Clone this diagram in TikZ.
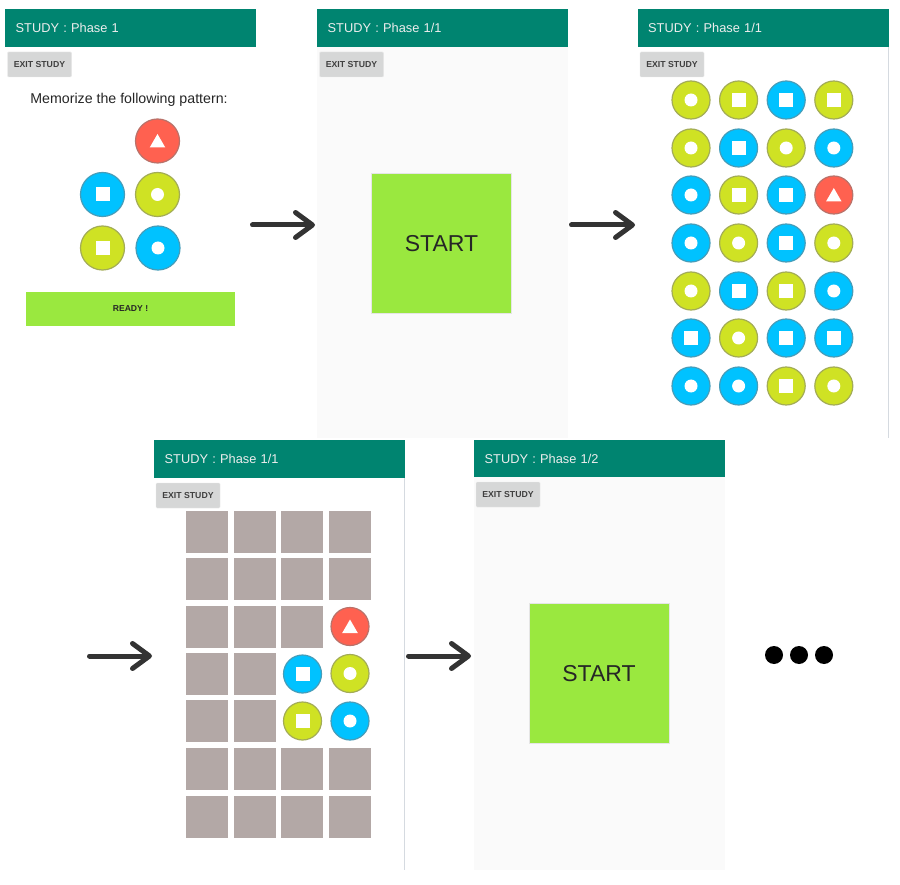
\documentclass[tikz,border=0pt]{standalone}
\usepackage{fontspec}
\setmainfont{Liberation Sans}
\usetikzlibrary{arrows.meta,shapes.geometric}
\definecolor{headteal}{HTML}{008470}
\definecolor{limedisc}{HTML}{CFE224}
\definecolor{skydisc}{HTML}{00C2FF}
\definecolor{reddisc}{HTML}{FF6150}
\definecolor{startgreen}{HTML}{9AE83F}
\definecolor{hidegray}{HTML}{B3A8A6}
\definecolor{btngray}{HTML}{D6D7D7}
\definecolor{bodygray}{HTML}{FAFAFA}
\definecolor{edgegray}{HTML}{D5DAE0}
\begin{document}
\begin{tikzpicture}[
  x=1pt, y=-1pt,
  header/.style={fill=headteal, text=white!93!black, minimum height=38pt, inner ysep=0pt,
                 inner xsep=10.5pt, text width=230pt, align=left, anchor=north west,
                 font=\fontsize{12.8}{16}\selectfont},
  exitbtn/.style={fill=btngray, draw=black!8, text=black!75, minimum width=64pt, minimum height=25pt,
                  inner sep=0pt, rounded corners=1pt, font=\bfseries\fontsize{8.7}{10}\selectfont},
  body/.style={fill=bodygray, minimum width=251pt, inner sep=0pt, anchor=north west},
  startbox/.style={fill=startgreen, draw=black!10, minimum size=140pt, inner sep=0pt, text=black!85,
                   font=\fontsize{23}{28}\selectfont},
  hidebox/.style={fill=hidegray, minimum size=42pt, inner sep=0pt},
  disc/.style={circle, fill=#1, draw=#1!45!gray, line width=1.2pt, minimum size=38pt, inner sep=0pt},
  bigdisc/.style={disc=#1, minimum size=44pt},
  marko/.style={circle, fill=white, minimum size=13pt, inner sep=0pt},
  marks/.style={fill=white, minimum size=14pt, inner sep=0pt},
  markt/.style={regular polygon, regular polygon sides=3, fill=white, minimum size=18pt,
                inner sep=0pt, yshift=-2pt},
  arrow/.style={-{Straight Barb[length=17pt, width=25pt, round]}, line width=5pt, line cap=round,
                black!80},
  dot/.style={circle, fill=black, minimum size=18pt, inner sep=0pt},
]
\useasboundingbox (0,0) rectangle (900,885);
\fill[white] (0,0) rectangle (900,885);

% Screen 1: pattern
\node[header] (head1) at (5,9) {STUDY : Phase 1};
\node[exitbtn] (exit1) at (39.5,64.5) {EXIT STUDY};
\node[font=\fontsize{14.2}{16}\selectfont, text=black!85] (memo) at (129,99.5) {Memorize the following pattern:};
\node[bigdisc=reddisc] (p1) at (157.5,141) {};
\node[markt] (pm1) at (p1) {};
\node[bigdisc=skydisc] (p2) at (102.5,194.5) {};
\node[marks] (pm2) at (p2) {};
\node[bigdisc=limedisc] (p3) at (157.5,194.5) {};
\node[marko] (pm3) at (p3) {};
\node[bigdisc=limedisc] (p4) at (102.5,248) {};
\node[marks] (pm4) at (p4) {};
\node[bigdisc=skydisc] (p5) at (158,248) {};
\node[marko] (pm5) at (p5) {};
\node[fill=startgreen, minimum width=209pt, minimum height=34pt, inner sep=0pt, text=black!85,
      font=\bfseries\fontsize{8.6}{10}\selectfont] (ready) at (130.5,309) {READY !};

% Screen 2: start
\node[body, minimum height=391pt] (body2) at (317,47) {};
\node[header] (head2) at (317,9) {STUDY : Phase 1/1};
\node[exitbtn] (exit2) at (351.5,64.5) {EXIT STUDY};
\node[startbox] (start2) at (441.5,243.5) {START};

% Screen 3: all discs
\node[header] (head3) at (637.5,9) {STUDY : Phase 1/1};
\node[exitbtn] (exit3) at (672,64.5) {EXIT STUDY};
\coordinate (edge3a) at (888,47);
\coordinate (edge3b) at (888,438);
\draw[edgegray] (edge3a) -- (edge3b);
\foreach \yy/\rowlist in {
  100/{limedisc/o,limedisc/s,skydisc/s,limedisc/s},
  148/{limedisc/o,skydisc/s,limedisc/o,skydisc/o},
  195/{skydisc/o,limedisc/s,skydisc/s,reddisc/t},
  243/{skydisc/o,limedisc/o,skydisc/s,limedisc/o},
  291/{limedisc/o,skydisc/s,limedisc/s,skydisc/o},
  338/{skydisc/s,limedisc/o,skydisc/s,skydisc/s},
  386/{skydisc/o,skydisc/o,limedisc/s,limedisc/o}} {
  \foreach \cc/\mm [count=\i] in \rowlist {
    \node[disc=\cc] (d\yy-\i) at ({691+47.6*(\i-1)},\yy) {};
    \node[mark\mm] (dm\yy-\i) at (d\yy-\i) {};
  }
}

% Screen 4: recall grid
\node[header] (head4) at (154,440) {STUDY : Phase 1/1};
\node[exitbtn] (exit4) at (188,495.5) {EXIT STUDY};
\coordinate (edge4a) at (404,478);
\coordinate (edge4b) at (404,870);
\draw[edgegray] (edge4a) -- (edge4b);
\foreach \yy/\cols in {531.5/{1,2,3,4}, 579/{1,2,3,4}, 626.5/{1,2,3}, 674/{1,2},
                       721/{1,2}, 769/{1,2,3,4}, 816.5/{1,2,3,4}} {
  \foreach \i in \cols {
    \node[hidebox] (g\yy-\i) at ({207+47.6*(\i-1)},\yy) {};
  }
}
\node[disc=reddisc] (q1) at (350,626.5) {};
\node[markt] (qm1) at (q1) {};
\node[disc=skydisc] (q2) at (302.5,674) {};
\node[marks] (qm2) at (q2) {};
\node[disc=limedisc] (q3) at (350,673.5) {};
\node[marko] (qm3) at (q3) {};
\node[disc=limedisc] (q4) at (302.5,721) {};
\node[marks] (qm4) at (q4) {};
\node[disc=skydisc] (q5) at (350,721) {};
\node[marko] (qm5) at (q5) {};

% Screen 5: next start
\node[body, minimum height=393pt] (body5) at (474,477) {};
\node[header, minimum height=37pt] (head5) at (474,440) {STUDY : Phase 1/2};
\node[exitbtn] (exit5) at (508,494.5) {EXIT STUDY};
\node[startbox] (start5) at (599,673.5) {START};

% Dots
\node[dot] (dot1) at (774,655) {};
\node[dot] (dot2) at (799,655) {};
\node[dot] (dot3) at (824,655) {};

% Arrows
\coordinate (a1s) at (252.5,225);
\coordinate (a1e) at (315,225);
\coordinate (a2s) at (571.5,225);
\coordinate (a2e) at (635,225);
\coordinate (a3s) at (89.5,656);
\coordinate (a3e) at (152,656);
\coordinate (a4s) at (408.5,656);
\coordinate (a4e) at (471,656);
\draw[arrow] (a1s) -- (a1e);
\draw[arrow] (a2s) -- (a2e);
\draw[arrow] (a3s) -- (a3e);
\draw[arrow] (a4s) -- (a4e);
\end{tikzpicture}
\end{document}
